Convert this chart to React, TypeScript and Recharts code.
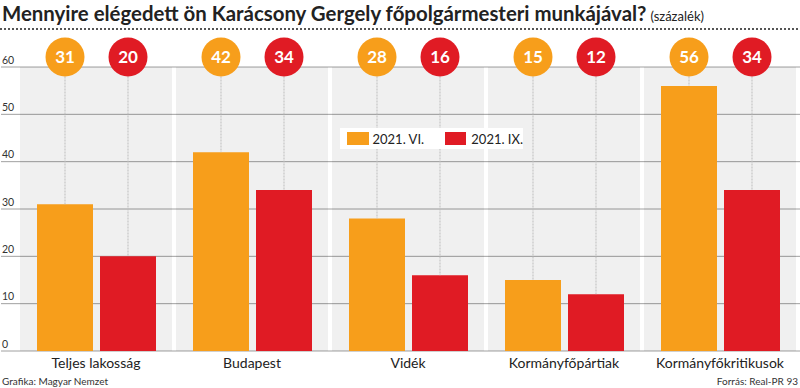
import { BarChart, Bar, XAxis, YAxis, CartesianGrid, LabelList } from "recharts";

// Survey: satisfaction with the mayor's work, two waves (percent)
const categories = ["Teljes lakosság", "Budapest", "Vidék", "Kormányfőpártiak", "Kormányfőkritikusok"];
const wave1 = [31, 42, 28, 15, 56];   // 2021. VI.
const wave2 = [20, 34, 16, 12, 34];   // 2021. IX.
const yTicks = [0, 10, 20, 30, 40, 50, 60];

const ORANGE = "#F79E1B";
const RED = "#E01B24";
const FONT = "Lato, 'Open Sans', sans-serif";

const data = categories.map((name, i) => ({ name, vi: wave1[i], ix: wave2[i] }));

const CIRCLE_Y = 57;
const CIRCLE_R = 19.5;

function Bubble(color: string) {
  return (p: any) => {
    const cx = p.x + p.width / 2;
    return (
      <g>
        <line x1={cx} x2={cx} y1={CIRCLE_Y + CIRCLE_R} y2={p.y} stroke="#bdbdbd" strokeWidth={1} strokeDasharray="2 1" />
        <circle cx={cx} cy={CIRCLE_Y} r={CIRCLE_R} fill={color} />
        <text x={cx} y={CIRCLE_Y + 6} textAnchor="middle" fill="#fff" fontFamily={FONT} fontWeight={700} fontSize={17}>
          {p.value}
        </text>
      </g>
    );
  };
}

// gray column behind each category, hung off the first bar of the group
const Band = (p: any) => (
  <rect x={p.x - 17} y={p.y} width={152} height={p.height} fill="rgba(0,0,0,0.058)" />
);

const YTick = (p: any) => (
  <text x={2} y={p.y - 3.5} fontFamily={FONT} fontSize={10.5} fill="#333">{p.payload.value}</text>
);

const XTick = (p: any) => (
  <text x={p.x} y={p.y + 16.5} textAnchor="middle" fontFamily={FONT} fontSize={14} fill="#222">{p.payload.value}</text>
);

const Swatch = ({ color }: { color: string }) => (
  <span style={{ display: "inline-block", width: 22, height: 13, background: color }} />
);

export default function App() {
  return (
    <div style={{ position: "absolute", left: 0, top: 0, width: 800, height: 388, background: "#fff", overflow: "hidden" }}>
      <div style={{ position: "absolute", left: 2, top: 1, whiteSpace: "nowrap", fontFamily: FONT, color: "#222" }}>
        <span style={{ fontWeight: 700, fontSize: 20.4 }}>Mennyire elégedett ön Karácsony Gergely főpolgármesteri munkájával?</span>
        <span style={{ fontSize: 13, marginLeft: 4 }}>(százalék)</span>
      </div>
      <svg width={800} height={4} style={{ position: "absolute", left: 0, top: 28 }}>
        <line x1={0} x2={800} y1={1} y2={1} stroke="#555" strokeWidth={2} strokeDasharray="2 2" />
      </svg>
      <BarChart
        width={800}
        height={388}
        data={data}
        margin={{ top: 67, right: 0, left: 0, bottom: 0 }}
        barSize={56}
        barGap={7}
        style={{ position: "absolute", left: 0, top: 0 }}
      >
        <CartesianGrid vertical={false} stroke="#a0a0a0" />
        <XAxis dataKey="name" padding={{ left: 17, right: 2 }} axisLine={false} tickLine={false} tickSize={0} tickMargin={0} height={37} tick={<XTick />} interval={0} />
        <YAxis domain={[0, 60]} ticks={yTicks} width={1} axisLine={false} tickLine={false} tick={<YTick />} />
        <Bar dataKey="vi" name="2021. VI." fill={ORANGE} isAnimationActive={false} background={<Band />}>
          <LabelList dataKey="vi" content={Bubble(ORANGE)} />
        </Bar>
        <Bar dataKey="ix" name="2021. IX." fill={RED} isAnimationActive={false}>
          <LabelList dataKey="ix" content={Bubble(RED)} />
        </Bar>
      </BarChart>
      <div style={{ position: "absolute", left: 340, top: 128, width: 183, height: 21, background: "#fff", display: "flex", alignItems: "center", fontFamily: FONT, fontSize: 13, color: "#222", whiteSpace: "nowrap" }}>
        <span style={{ marginLeft: 7 }} />
        <Swatch color={ORANGE} />
        <span style={{ marginLeft: 4, width: 74 }}>2021. VI.</span>
        <Swatch color={RED} />
        <span style={{ marginLeft: 5 }}>2021. IX.</span>
      </div>
      <div style={{ position: "absolute", left: 2, top: 375, fontFamily: FONT, fontSize: 10, color: "#333" }}>Grafika: Magyar Nemzet</div>
      <div style={{ position: "absolute", right: 2, top: 375, fontFamily: FONT, fontSize: 10, color: "#333" }}>Forrás: Real-PR 93</div>
    </div>
  );
}
